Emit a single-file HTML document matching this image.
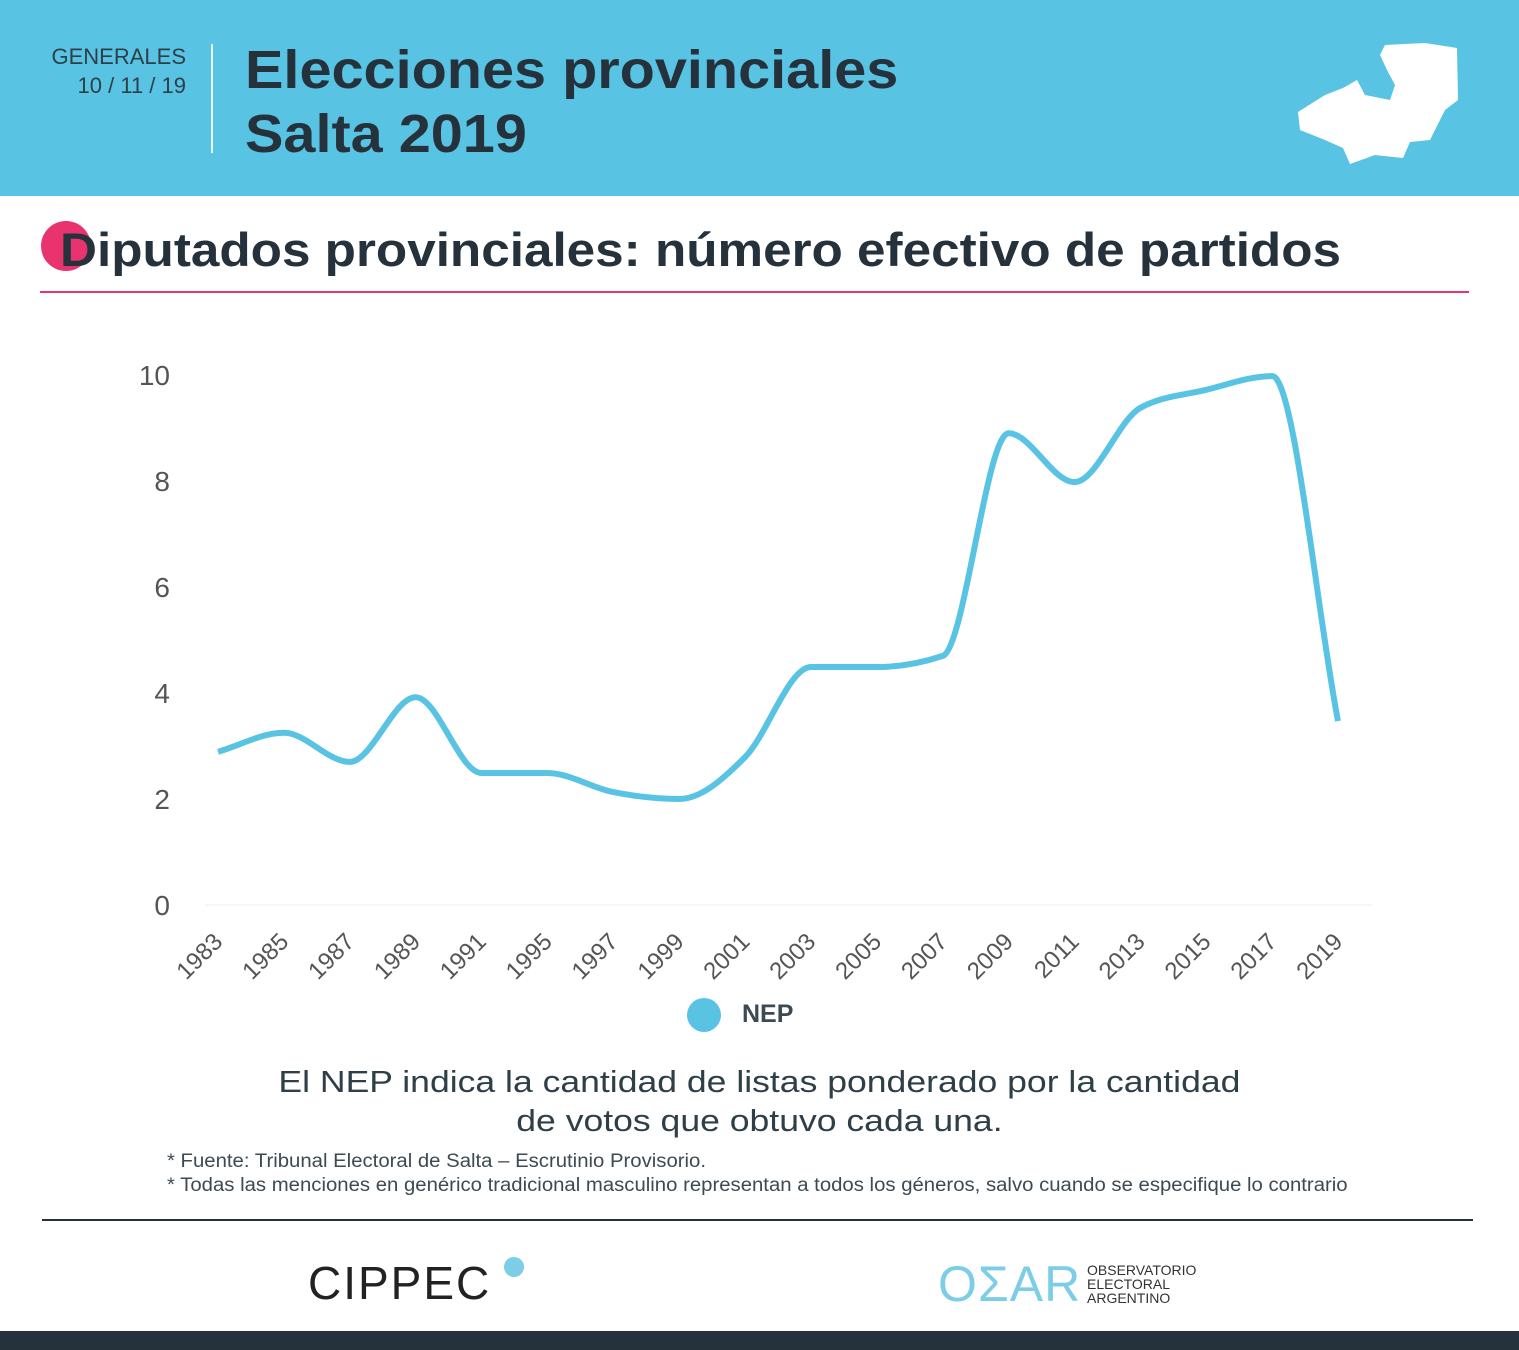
<!DOCTYPE html>
<html><head><meta charset="utf-8">
<style>
body{margin:0;width:1519px;height:1350px;position:relative;background:#fff;font-family:"Liberation Sans",sans-serif;overflow:hidden;color:#25323c}
.abs{position:absolute}
</style></head><body>
<div class="abs" style="left:0;top:0;width:1519px;height:196px;background:#59c3e3"></div>
<div class="abs" style="left:20px;top:42px;width:166px;text-align:right;font-size:22px;color:#2f3f48;line-height:29px">GENERALES<br>10 / 11 / 19</div>
<div class="abs" style="left:211px;top:44px;width:2px;height:109px;background:#e9f6fb"></div>
<div class="abs" style="left:245px;top:38px;font-size:54px;font-weight:bold;line-height:64px;color:#25323c;transform:scaleX(1.067);transform-origin:left top;white-space:nowrap">Elecciones provinciales<br>Salta 2019</div>
<svg class="abs" style="left:1295px;top:40px" width="170" height="126"><path d="M90 5 L130 3 L162 8 L163 60 L150 70 L135 100 L115 102 L108 118 L80 115 L55 124 L48 108 L30 100 L5 90 L3 72 L30 55 L48 48 L62 40 L70 55 L95 60 L100 45 L92 30 L85 15 Z" fill="#fff"/></svg>
<div class="abs" style="left:41px;top:221px;width:50px;height:50px;border-radius:50%;background:#e8336e"></div>
<div class="abs" style="left:60px;top:222px;font-size:47px;font-weight:bold;color:#25323c;transform:scaleX(1.09);transform-origin:left top;white-space:nowrap">Diputados provinciales: número efectivo de partidos</div>
<div class="abs" style="left:40px;top:291px;width:1429px;height:2px;background:#e8336e"></div>
<svg id="chart" class="abs" style="left:0;top:0" width="1519" height="1000"></svg>
<div class="abs" style="left:687px;top:998px;width:34px;height:34px;border-radius:50%;background:#59c3e3"></div>
<div class="abs" style="left:742px;top:1000px;font-size:25px;font-weight:bold;color:#3c4a53">NEP</div>
<div class="abs" style="left:0;top:1062px;width:1519px;text-align:center;font-size:31px;line-height:39px;color:#2f3f48;transform:scaleX(1.147);transform-origin:760px top">El NEP indica la cantidad de listas ponderado por la cantidad<br>de votos que obtuvo cada una.</div>
<div class="abs" style="left:167px;top:1150px;font-size:19px;line-height:24px;color:#3c4a53;transform:scaleX(1.07);transform-origin:left top;white-space:nowrap">* Fuente: Tribunal Electoral de Salta – Escrutinio Provisorio.<br>* Todas las menciones en genérico tradicional masculino representan a todos los géneros, salvo cuando se especifique lo contrario</div>
<div class="abs" style="left:42px;top:1219px;width:1431px;height:2px;background:#25323c"></div>
<div class="abs" style="left:308px;top:1256px;font-size:46px;letter-spacing:2px;color:#222">CIPPEC</div>
<div class="abs" style="left:504px;top:1257px;width:20px;height:20px;border-radius:50%;background:#7ccde6"></div>
<div class="abs" style="left:938px;top:1255px;font-size:50px;color:#7ccde6;letter-spacing:1px">OΣAR</div>
<div class="abs" style="left:1087px;top:1263px;font-size:14px;line-height:14px;color:#333">OBSERVATORIO<br>ELECTORAL<br>ARGENTINO</div>
<div class="abs" style="left:0;top:1331px;width:1519px;height:19px;background:#25323c"></div>
<script>
const years=["1983","1985","1987","1989","1991","1995","1997","1999","2001","2003","2005","2007","2009","2011","2013","2015","2017","2019"];
const nep=[2.89,3.25,2.7,3.92,2.49,2.49,2.13,2.0,2.79,4.49,4.49,4.7,8.9,7.98,9.38,9.72,9.98,3.47];
const yTicks=[0,2,4,6,8,10];
const svg=document.getElementById('chart');
const NS='http://www.w3.org/2000/svg';
const x=i=>218+i*(1338-218)/(years.length-1);
const y=v=>905-v*53;
function mk(t,a){const e=document.createElementNS(NS,t);for(const k in a)e.setAttribute(k,a[k]);svg.appendChild(e);return e;}
const base=mk('line',{x1:205,x2:1372,y1:y(0),y2:y(0),stroke:'#eee','stroke-width':1});


yTicks.forEach(t=>{const e=mk('text',{x:170,y:y(t)+10,'text-anchor':'end','font-size':28,fill:'#555','font-family':'Liberation Sans, sans-serif'});e.textContent=t;

});
years.forEach((yr,i)=>{const e=mk('text',{x:0,y:0,'text-anchor':'end','font-size':24,fill:'#555','font-family':'Liberation Sans, sans-serif',transform:`translate(${x(i)+6},${y(0)+38}) rotate(-45)`});e.textContent=yr;

});
const px=nep.map((v,i)=>x(i)),py=nep.map(v=>y(v)),n=px.length;
const d=[],m=[];for(let i=0;i<n-1;i++)d.push((py[i+1]-py[i])/(px[i+1]-px[i]));
m[0]=d[0];m[n-1]=d[n-2];
for(let i=1;i<n-1;i++){if(d[i-1]*d[i]<=0)m[i]=0;else{const h0=px[i]-px[i-1],h1=px[i+1]-px[i];const s0=d[i-1],s1=d[i];const p=(s0*h1+s1*h0)/(h0+h1);m[i]=(Math.sign(s0)+Math.sign(s1))*Math.min(Math.abs(s0),Math.abs(s1),0.5*Math.abs(p));}}
let path=`M${px[0]},${py[0]}`;
for(let i=0;i<n-1;i++){const h=(px[i+1]-px[i])/3;path+=` C${px[i]+h},${py[i]+m[i]*h} ${px[i+1]-h},${py[i+1]-m[i+1]*h} ${px[i+1]},${py[i+1]}`;}
const line=mk('path',{d:path,fill:'none',stroke:'#59c3e3','stroke-width':6,'stroke-linejoin':'round'});


</script>
</body></html>
